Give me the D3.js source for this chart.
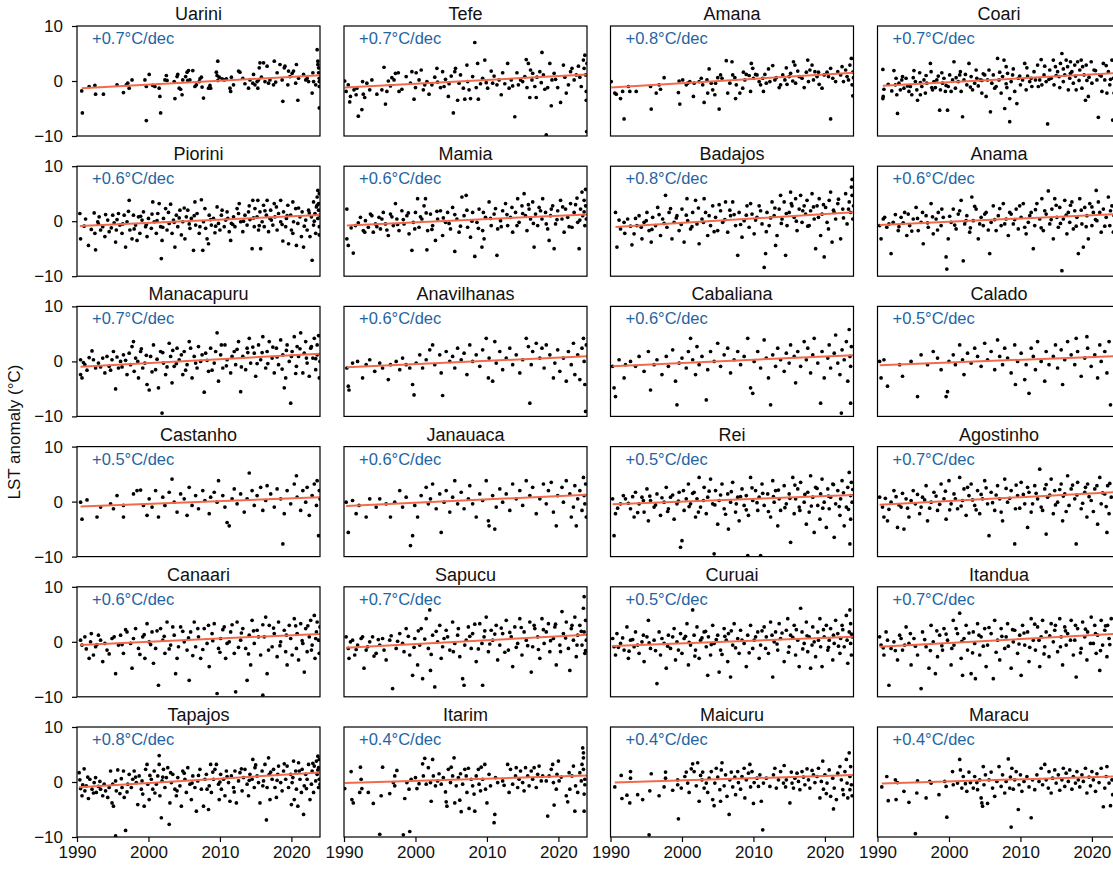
<!DOCTYPE html>
<html lang="en">
<head>
<meta charset="utf-8">
<title>LST anomaly trends</title>
<script src="https://cdn.jsdelivr.net/npm/d3@7"></script>
<style>
    body { margin: 0; background: #fff; }
    svg { display: block; font-family: "Liberation Sans", Arial, sans-serif; }
    .title { font-size: 18px; fill: #111; }
    .tick text { font-size: 17px; fill: #111; }
    .rate { font-size: 16.5px; fill: #1f65a3; }
    .ylab { font-size: 17px; fill: #111; }
</style>
</head>
<body>
<script>
// each point: [years since 1990, LST anomaly in °C]
var uarini = [[0.66,-1.8],[0.75,-5.8],[1.7,-1.0],[2.5,-0.8],[2.6,-2.4],[3.7,-2.4],[5.6,-0.7],[6.5,-2.1],[6.9,-0.7],[7.1,-0.4],[7.3,-1.3],[7.7,0.2],[9.5,0.2],[9.7,-7.2],[9.7,-1.0],[10.1,1.2],[10.6,-0.8],[10.9,-1.0],[11.5,-1.3],[11.6,-2.8],[11.7,-5.8],[12.3,0.2],[12.5,1.0],[12.6,0.1],[13.6,-0.1],[13.7,-3.2],[14.0,0.8],[14.1,1.2],[14.3,-1.3],[14.5,-1.5],[14.7,-2.5],[14.8,0.2],[15.2,0.8],[15.4,1.6],[15.5,0.1],[15.6,1.9],[15.8,0.2],[16.2,1.9],[16.5,-1.0],[16.7,-0.7],[17.1,-0.1],[17.2,0.4],[17.4,0.7],[17.5,-1.1],[17.7,-3.1],[18.4,-1.3],[18.6,-0.8],[18.7,-1.3],[19.5,1.6],[19.6,1.0],[19.7,3.6],[19.7,0.1],[19.9,0.7],[20.3,0.4],[20.6,0.2],[20.9,0.4],[21.4,-1.3],[21.5,-1.9],[21.6,0.7],[21.9,-0.7],[22.6,1.8],[22.8,1.6],[23.2,0.5],[23.5,-0.5],[24.0,-1.3],[24.2,0.2],[24.6,-0.4],[24.7,1.2],[24.9,-0.7],[25.2,-0.1],[25.3,-1.3],[25.4,0.2],[25.5,2.4],[25.6,3.3],[25.8,0.7],[26.1,3.3],[26.3,-0.1],[26.6,2.7],[26.8,-0.4],[27.0,0.2],[27.5,-0.7],[27.6,3.6],[27.8,-0.2],[28.0,1.5],[28.4,3.0],[28.7,0.2],[28.8,-3.7],[29.0,2.4],[29.1,2.7],[29.5,-0.7],[29.6,1.8],[29.8,0.8],[30.1,1.4],[30.3,1.8],[30.6,-0.4],[30.7,3.0],[30.9,-3.5],[31.0,0.5],[31.7,1.2],[32.0,0.2],[32.2,0.5],[32.4,-0.1],[32.9,-2.2],[33.0,1.5],[33.1,-0.1],[33.4,-0.7],[33.6,5.7],[33.7,3.6],[33.7,3.0],[33.8,2.4],[33.8,1.5],[33.9,-0.1],[33.9,-1.0],[33.9,-4.9],[33.9,0.5]];
var tefe = [[0.1,0],[0.3,-1.9],[0.6,-0.7],[0.8,-3.8],[0.9,-2.8],[1.4,-1.6],[1.7,-2.5],[1.8,-1.3],[2.0,-6.4],[2.5,-5.2],[2.6,-0.1],[2.7,-2.4],[2.9,-3.0],[3.2,-0.4],[3.6,-1.6],[3.9,0.2],[4.6,-2.4],[5.3,-1.6],[5.6,2.5],[5.8,-4.2],[6.0,-1.9],[6.2,0],[6.5,-0.9],[6.7,0.6],[7.0,0.2],[7.2,1.4],[7.6,1.5],[7.7,-1.9],[8.1,-1.5],[8.7,0.8],[9.3,-0.4],[9.5,1.7],[9.8,-3.3],[10.0,-1.2],[10.1,1.5],[10.5,0.2],[10.8,2.0],[11.1,-1.6],[11.3,-0.7],[11.6,-0.1],[11.9,-2.4],[12.3,-0.7],[12.7,0.7],[13.0,2.3],[13.1,-0.2],[13.5,-1.2],[13.8,1.7],[14.0,-1.0],[14.2,0.3],[14.6,-2.8],[14.7,-0.5],[15.0,0.9],[15.3,-5.8],[15.5,1.7],[15.6,2.3],[15.9,-3.5],[16.1,-0.4],[16.3,1.1],[16.7,-1.3],[16.9,-3.3],[17.2,2.9],[17.3,-0.1],[17.5,-1.6],[17.7,-3.2],[18.0,0.8],[18.3,7.0],[18.5,-1.2],[18.7,3.2],[18.8,-3.3],[19.1,-0.5],[19.4,0.5],[19.7,3.8],[19.9,-0.3],[20.1,-1.3],[20.6,1.8],[20.8,-0.4],[21.0,0.9],[21.4,-0.7],[21.7,0.2],[22.0,-2.5],[22.2,1.5],[22.5,-0.5],[22.9,3.2],[23.1,-1.3],[23.4,0.2],[23.6,-0.9],[23.9,-6.5],[24.2,1.5],[24.4,-0.7],[24.7,0.2],[25.0,-0.1],[25.3,0.8],[25.5,3.9],[25.6,-1.2],[25.8,3.2],[26.0,-3.0],[26.1,2.0],[26.3,0.2],[26.4,1.4],[26.7,-1.0],[26.9,-3.0],[27.0,0.7],[27.4,1.7],[27.6,-0.3],[27.7,5.2],[27.9,1.1],[28.1,-1.5],[28.3,-9.8],[28.5,-1.2],[28.8,3.2],[29.0,-4.5],[29.1,0.2],[29.4,1.4],[29.6,0.3],[29.9,-1.2],[30.3,-3.9],[30.7,2.9],[30.9,0.7],[31.1,-2.2],[31.4,-0.7],[31.7,1.7],[31.9,2.3],[32.2,0.2],[32.5,1.1],[32.8,2.7],[33.0,0.7],[33.2,-1.0],[33.5,3.8],[33.6,2.3],[33.7,4.7],[33.8,1.1],[33.9,-1.9],[33.9,-3.5],[33.95,-9.2],[34.0,3.2]];
var amana = [[0.1,-0.1],[0.6,-2.2],[0.8,-2.4],[1.4,-3.2],[1.7,-1.9],[1.9,-6.9],[2.5,-1.0],[2.7,-1.9],[3.6,-1.9],[5.6,-1.0],[5.7,-5.1],[6.4,-2.2],[6.8,-0.7],[7.0,-1.5],[7.5,0.6],[9.5,-2.1],[9.6,0],[9.7,-4.2],[10.1,0.2],[10.6,-0.7],[10.8,-0.4],[11.1,-0.1],[11.6,-2.8],[11.7,-0.4],[12.4,-0.1],[12.7,0.5],[12.9,-0.7],[13.1,-3.9],[13.5,0.2],[13.6,-2.2],[13.8,2.2],[14.1,-0.4],[14.3,-1.6],[14.6,-2.5],[14.7,-0.4],[15.0,0.6],[15.2,-5.1],[15.4,1.1],[15.6,0.5],[16.2,3.7],[16.4,-2.2],[16.7,-0.4],[17.0,3.5],[17.1,1.1],[17.4,0.6],[17.5,-3.2],[17.6,-0.7],[18.1,-2.2],[18.5,-1.3],[18.6,1.6],[18.8,0.2],[19.0,1.2],[19.4,1.0],[19.6,-1.9],[19.7,3.2],[19.9,2.3],[20.0,0.5],[20.3,1.2],[20.5,1.1],[20.8,-0.1],[21.0,-0.7],[21.3,0.5],[21.4,-1.9],[21.6,1.2],[21.8,-0.4],[22.1,2.2],[22.3,-0.1],[22.7,2.8],[23.0,0.2],[23.2,0.6],[23.6,-1.2],[23.8,-0.7],[24.1,1.1],[24.4,0.2],[24.6,2.4],[24.7,-0.6],[25.0,0.8],[25.2,1.4],[25.5,0],[25.6,3.5],[25.8,2.9],[25.9,-0.4],[26.2,1.8],[26.4,0.8],[26.8,0.5],[27.1,-1.2],[27.4,1.6],[27.6,3.8],[27.7,-0.1],[27.9,2.0],[28.2,2.9],[28.4,0.2],[28.6,1.7],[28.9,0.8],[29.1,1.6],[29.2,-0.6],[29.6,-1.3],[29.9,1.1],[30.3,1.6],[30.5,0.8],[30.8,2.3],[30.8,-6.9],[31.1,0.5],[31.5,-0.1],[31.8,1.7],[32.2,1.1],[32.4,2.6],[32.6,-0.1],[32.9,2.0],[33.1,0.8],[33.3,0.2],[33.5,2.9],[33.7,4.1],[33.8,-0.7],[33.9,1.6],[33.9,-2.7],[34.0,0.6]];
var coari = [[0.75,2.1],[0.8,-2.8],[0.9,-1.5],[0.75,-3.2],[2.3,1.9],[2.5,-0.7],[2.6,0.5],[2.7,-2.5],[2.8,-5.9],[3.0,-0.4],[3.2,-1.6],[3.4,0.2],[3.7,-1.3],[4.0,0.5],[4.4,-1.9],[4.6,-1.0],[4.8,-2.5],[5.1,1.9],[5.3,-0.1],[5.5,-1.6],[5.6,-3.5],[5.9,1.5],[6.0,-2.5],[6.2,-1.0],[6.5,0.2],[6.7,-2.2],[6.9,-0.4],[7.4,3.2],[7.5,1.7],[7.7,-1.6],[7.9,-0.1],[8.1,-1.2],[8.5,0.9],[8.7,-5.3],[8.8,-1.6],[9.1,-0.4],[9.3,0.5],[9.5,-1.9],[9.8,-5.3],[9.9,-1.0],[10.1,1.1],[10.5,0.2],[10.7,3.5],[10.9,-1.3],[11.3,-0.1],[11.5,1.1],[11.6,1.7],[11.7,-1.9],[11.9,-6.5],[12.1,0.2],[12.5,-0.7],[12.8,3.2],[13.1,0.8],[13.3,-1.6],[13.6,-0.4],[13.9,0.5],[14.1,-0.9],[14.4,0.2],[14.6,-2.2],[14.8,1.3],[15.2,-2.8],[15.4,0.2],[15.6,2.0],[15.8,-5.6],[16.0,-0.4],[16.2,1.1],[16.6,-1.0],[16.8,4.1],[17.0,0.2],[17.3,-2.2],[17.5,0.8],[17.7,3.8],[17.8,-5.0],[18.0,2.6],[18.1,-1.2],[18.2,1.4],[18.5,-3.2],[18.5,-7.4],[18.7,-0.1],[18.9,1.1],[19.2,-1.9],[19.5,-4.1],[19.7,0.5],[20.0,-0.7],[20.3,0.2],[20.6,3.2],[20.8,-1.6],[21.0,0.9],[21.3,-0.1],[21.6,-1.0],[21.9,1.7],[22.1,0.2],[22.4,2.9],[22.7,0.2],[22.9,3.9],[23.0,-0.7],[23.3,1.1],[23.6,-0.1],[23.8,-7.8],[24.1,2.0],[24.3,0.5],[24.6,3.8],[24.7,-0.7],[24.9,2.6],[25.2,1.7],[25.4,0.8],[25.6,3.2],[25.8,5.0],[26.0,-0.1],[26.2,1.1],[26.4,3.8],[26.6,2.6],[26.7,-1.6],[26.9,0.5],[27.0,3.5],[27.2,1.7],[27.4,-0.4],[27.6,2.9],[27.7,0.9],[28.0,3.5],[28.2,0.1],[28.3,2.0],[28.5,3.8],[28.6,-1.3],[28.9,1.1],[29.1,-3.5],[29.2,2.9],[29.5,-2.8],[29.6,0.7],[29.9,3.5],[30.0,-0.4],[30.3,2.0],[30.7,0.2],[30.9,-6.6],[31.1,1.1],[31.4,-1.9],[31.6,3.2],[31.8,0.2],[32.1,-2.2],[32.3,1.7],[32.5,-0.7],[32.8,3.8],[32.9,-7.1],[33.0,0.5],[33.1,-2.2],[33.6,1.2],[33.8,-0.6],[33.9,2.4],
    [1.5,-0.6],[2.0,-1.8],[3.5,0.8],[4.2,-0.9],[5.0,0.6],[6.0,-0.3],[6.8,1.0],[7.6,-1.2],[8.3,0.2],[9.0,1.5],[9.6,-0.8],[10.3,-1.9],[11.0,0.6],[12.3,1.2],[13.0,-1.1],[13.8,2.0],[14.6,0.1],[15.0,1.1],[16.4,-1.3],[17.1,1.6],[18.0,-0.5],[19.0,2.2],[19.9,0.9],[20.9,2.4],[21.5,0.5],[22.5,-1.0],[23.4,2.7],[24.0,0.3],[25.0,1.0],[25.5,-1.2],[26.0,2.2],[27.0,1.4],[27.8,-1.6],[28.7,2.6],[29.3,0.1],[30.5,1.9],[31.3,0.9],[32.0,2.8],[32.6,0.3]];
var piorini = [[0.4,1.4],[0.5,-3.2],[1.0,-0.9],[1.6,-4.4],[2.4,1.5],[2.5,-2.2],[2.6,-5.2],[2.9,-0.1],[3.1,0.8],[3.3,-1.6],[3.6,-1.0],[3.9,-2.8],[4.3,0.2],[4.5,-1.9],[5.0,1.1],[5.2,-0.3],[5.4,-3.8],[5.5,-1.6],[5.8,1.4],[6.0,-0.7],[6.3,-2.2],[6.6,1.1],[6.8,-4.7],[7.0,-0.1],[7.3,3.8],[7.4,-1.6],[7.7,-3.2],[7.9,1.1],[8.2,-0.7],[8.4,-3.5],[8.6,0.8],[8.8,-2.2],[9.1,0.2],[9.3,1.7],[9.6,-1.0],[9.8,-2.8],[10.0,0.5],[10.4,-1.3],[10.6,3.5],[10.8,-0.1],[11.1,-2.2],[11.3,1.4],[11.5,3.2],[11.7,-1.0],[11.8,-6.8],[11.9,-3.5],[12.1,0.5],[12.4,2.3],[12.6,-1.6],[12.9,-0.4],[13.1,3.1],[13.3,-2.2],[13.5,0.2],[13.7,-4.7],[13.9,1.1],[14.1,-1.0],[14.4,2.0],[14.6,-2.5],[14.8,-0.1],[15.1,-3.2],[15.3,0.8],[15.5,2.0],[15.8,-1.3],[16.0,0.5],[16.3,-5.3],[16.5,3.5],[16.6,-0.7],[16.8,1.4],[17.1,-2.2],[17.4,3.9],[17.6,-5.3],[17.7,-0.1],[18.0,-1.3],[18.2,-3.2],[18.4,-4.1],[18.5,1.1],[18.8,-0.7],[19.1,0.5],[19.3,-2.1],[19.6,2.6],[19.8,-0.4],[20.0,-1.6],[20.2,1.1],[20.6,-1.0],[20.8,0.2],[21.0,1.7],[21.3,-1.9],[21.5,-3.5],[21.6,-0.4],[21.9,0.8],[22.1,-1.0],[22.4,2.3],[22.7,3.2],[22.9,-0.1],[23.2,-1.9],[23.5,1.1],[23.8,-0.7],[24.0,1.7],[24.2,0.3],[24.5,-5.0],[24.6,3.8],[24.8,-1.0],[24.9,2.3],[25.2,0.8],[25.3,3.8],[25.4,-1.6],[25.6,1.7],[25.7,-5.0],[25.9,-0.1],[26.1,2.9],[26.2,-1.0],[26.5,1.1],[26.6,3.8],[26.8,-1.9],[27.0,0.5],[27.1,2.0],[27.4,-0.7],[27.6,3.2],[27.7,0.8],[28.0,-1.6],[28.2,1.4],[28.5,3.8],[28.5,-0.1],[28.8,-3.6],[28.9,1.7],[29.2,-1.0],[29.3,0.5],[29.5,2.9],[29.6,-4.1],[29.9,1.1],[30.0,-1.6],[30.2,3.5],[30.3,-0.1],[30.6,2.3],[30.7,-4.4],[30.9,-0.4],[31.2,0.8],[31.4,-2.8],[31.5,1.7],[31.7,-4.7],[32.0,0.2],[32.2,-1.6],[32.4,2.0],[32.6,-2.8],[32.8,0.8],[32.9,-7.1],[33.1,3.5],[33.1,-0.7],[33.3,1.4],[33.4,-2.2],[33.5,2.6],[33.6,4.4],[33.7,5.6],[33.7,0.5],[33.8,2.0],[33.8,3.2],[33.9,-1.0],[33.9,5.0],[34.0,1.1],
    [1.2,0.4],[2.0,-1.5],[3.0,-0.5],[4.0,1.2],[4.8,-1.2],[5.6,0.3],[6.4,-0.5],[7.2,1.8],[8.0,-1.4],[8.9,0.9],[9.7,-0.6],[10.5,1.3],[11.2,0.1],[12.0,-1.1],[12.8,1.6],[13.6,-0.2],[14.3,0.6],[15.0,2.4],[15.7,-0.5],[16.4,1.0],[17.2,-1.0],[17.9,2.3],[18.7,0.3],[19.4,-0.9],[20.3,2.0],[21.1,0.5],[21.8,-0.6],[22.6,1.4],[23.3,0.0],[24.1,2.8],[24.7,0.6],[25.5,-0.8],[26.3,1.9],[27.2,0.2],[27.9,2.6],[28.7,-0.6],[29.4,1.0],[30.2,-2.2],[31.0,2.4],[31.8,-0.9],[32.5,1.5],[33.2,0.0],[33.6,2.9],[33.9,-2.5]];
var mamia = [[0.4,2.2],[0.4,-3.2],[0.6,-4.4],[1.3,-5.8],[1.6,-0.8],[2.3,0.7],[2.7,-1.7],[3.0,0.1],[3.4,-1.1],[3.7,1.3],[4.1,-2.0],[4.4,-0.5],[4.9,0.7],[5.1,-1.4],[5.5,1.6],[5.8,-0.5],[6.2,-2.6],[6.5,1.3],[6.9,-0.8],[7.2,3.2],[7.4,0.4],[7.7,-1.7],[8.1,1.9],[8.4,-0.5],[8.8,1.0],[9.1,-2.3],[9.5,-5.3],[9.7,-0.2],[10.0,1.6],[10.3,4.1],[10.5,-1.1],[10.9,0.4],[11.2,2.8],[11.4,4.1],[11.6,-5.2],[11.7,-1.7],[12.1,1.3],[12.4,-0.8],[12.8,-3.5],[13.1,0.4],[13.5,1.9],[13.8,-2.6],[14.2,-0.2],[14.5,1.6],[14.9,-1.4],[15.2,2.5],[15.5,-5.5],[15.8,0.4],[16.1,-2.0],[16.5,4.4],[16.8,1.0],[17.1,4.7],[17.3,-1.1],[17.7,-2.9],[18.0,1.6],[18.3,-6.4],[18.6,-0.2],[18.9,2.2],[19.3,-4.7],[19.4,-1.7],[19.6,-3.2],[19.8,0.7],[20.3,3.5],[20.6,-0.8],[21.0,1.3],[21.4,-6.2],[21.5,-1.4],[21.9,0.1],[22.2,1.9],[22.6,3.2],[22.9,-0.8],[23.3,0.7],[23.6,-2.0],[24.0,1.6],[24.3,4.1],[24.5,-0.2],[24.9,2.8],[25.2,5.0],[25.4,1.0],[25.6,-1.7],[25.9,2.2],[26.1,0.4],[26.4,3.5],[26.6,-4.7],[26.8,1.3],[27.1,-0.8],[27.3,2.5],[27.7,0.4],[27.8,4.1],[28.2,1.6],[28.5,-1.4],[28.7,-3.5],[28.9,1.0],[29.2,2.8],[29.4,-5.0],[29.6,-0.5],[29.9,1.9],[30.3,3.8],[30.5,0.4],[30.8,-2.0],[31.0,2.2],[31.3,0.7],[31.7,3.2],[31.9,-1.1],[32.2,1.6],[32.6,4.2],[32.7,-0.2],[32.9,-5.0],[33.1,2.2],[33.3,5.3],[33.4,1.0],[33.6,3.8],[33.7,-0.8],[33.8,2.8],[33.8,5.8],[33.9,0.4],
    [1.0,-1.2],[2.0,-0.3],[2.9,-2.0],[3.9,1.0],[4.6,-1.0],[5.3,0.4],[6.0,-1.6],[6.7,0.8],[7.5,-0.6],[8.3,0.3],[9.0,1.5],[9.9,-1.4],[10.7,0.8],[11.5,1.5],[12.3,-1.5],[13.0,1.8],[13.9,0.6],[14.7,-0.4],[15.5,1.2],[16.3,-0.9],[17.2,2.0],[17.9,0.0],[18.8,-1.3],[19.5,1.6],[20.5,0.5],[21.2,2.3],[22.0,-1.0],[22.8,1.2],[23.5,2.5],[24.2,-0.8],[25.0,1.4],[25.8,3.0],[26.5,-0.4],[27.5,1.9],[28.3,-0.5],[29.0,2.2],[29.8,0.3],[30.6,2.6],[31.5,-1.0],[32.4,3.0],[33.0,0.2],[33.6,1.7]];
var badajos = [[0.7,1.6],[0.9,-4.7],[1.4,-1.4],[1.9,-0.2],[2.4,0.4],[3.0,-4.3],[3.3,-2.3],[3.7,-0.8],[4.0,1.0],[4.4,-3.2],[4.7,-0.2],[5.1,1.6],[5.4,-1.7],[5.7,-3.8],[5.9,0.7],[6.3,-0.8],[6.6,2.5],[7.0,-2.6],[7.3,0.4],[7.7,4.7],[7.9,-1.1],[8.2,1.6],[8.6,-3.2],[8.9,-0.2],[9.3,1.0],[9.6,-1.7],[10.0,2.2],[10.3,-3.8],[10.7,4.1],[10.8,0.1],[11.2,-1.4],[11.5,1.6],[11.9,3.8],[12.1,-0.5],[12.4,-4.1],[12.8,0.4],[13.1,4.1],[13.3,1.6],[13.6,-2.6],[14.0,-0.8],[14.3,2.8],[14.7,0.7],[15.0,-1.7],[15.4,1.9],[15.7,-0.2],[16.1,3.5],[16.4,-2.0],[16.8,1.0],[17.1,3.5],[17.5,-0.8],[17.8,-6.2],[18.0,1.6],[18.4,-2.9],[18.7,0.1],[19.1,2.8],[19.4,-1.1],[19.8,1.3],[20.1,-2.3],[20.5,0.7],[20.8,2.8],[21.2,-0.5],[21.5,-8.4],[21.7,-5.9],[21.9,1.6],[22.2,-0.8],[22.6,3.5],[22.9,1.0],[23.1,-4.4],[23.3,-2.6],[23.6,2.2],[23.8,4.7],[24.0,0.4],[24.3,3.5],[24.5,-6.2],[24.7,-0.8],[25.0,1.6],[25.2,5.3],[25.4,2.8],[25.7,0.7],[25.9,4.1],[26.1,-1.7],[26.4,2.2],[26.6,4.7],[26.8,-0.2],[27.1,2.8],[27.3,1.3],[27.5,3.8],[27.8,-0.8],[28.0,1.9],[28.2,5.0],[28.5,0.4],[28.7,-5.0],[28.9,2.8],[29.2,4.1],[29.4,-2.6],[29.6,1.3],[29.9,-6.5],[30.1,2.5],[30.3,-0.2],[30.6,3.8],[30.8,5.3],[31.0,-3.8],[31.3,1.6],[31.5,0.4],[31.8,3.2],[32.2,-3.2],[32.5,2.2],[32.9,5.0],[33.1,-0.5],[33.4,3.5],[33.6,1.6],[33.7,6.2],[33.8,7.6],[33.8,4.7],[33.9,0.4],[34.0,2.8],
    [1.2,0.2],[2.0,-2.2],[2.8,-0.9],[3.5,0.5],[4.3,-1.1],[5.0,0.1],[5.8,-1.5],[6.8,1.2],[7.5,-0.4],[8.4,2.3],[9.2,0.6],[9.9,-0.6],[10.6,1.1],[11.4,-1.0],[12.3,2.4],[13.0,-0.2],[13.8,1.0],[14.5,-1.9],[15.2,3.0],[16.0,0.3],[16.7,2.0],[17.3,1.2],[18.2,-0.6],[19.0,1.1],[19.6,3.2],[20.3,0.2],[21.0,1.9],[21.8,-1.9],[22.4,0.6],[23.0,2.4],[23.9,-0.4],[24.6,1.4],[25.3,3.2],[26.0,0.0],[26.9,1.9],[27.6,-0.9],[28.4,2.6],[29.1,0.7],[29.8,3.0],[30.5,-1.4],[31.2,2.0],[31.9,4.0],[32.6,0.6],[33.3,2.2]];
var anama = [[0.3,-0.8],[0.5,-3.2],[1.0,0.7],[1.3,-1.1],[1.9,-5.9],[2.2,-0.2],[2.9,-1.7],[3.3,0.7],[3.8,1.6],[4.1,-2.6],[4.5,-0.8],[5.0,0.4],[5.4,2.5],[5.7,-1.7],[6.1,-0.2],[6.4,-4.1],[6.8,1.0],[7.1,-1.1],[7.5,3.2],[7.8,-2.3],[8.2,0.4],[8.5,1.6],[8.9,-0.8],[9.2,0.7],[9.6,-6.5],[9.7,-8.7],[9.9,-3.2],[10.3,-0.2],[10.6,2.2],[11.0,-1.4],[11.3,1.3],[11.7,3.8],[12.0,-7.2],[12.2,-0.5],[12.5,1.0],[12.9,-2.0],[13.2,4.4],[13.4,0.1],[13.8,2.2],[14.1,-3.2],[14.5,0.7],[14.8,-0.8],[15.2,1.6],[15.7,-5.9],[15.9,-0.2],[16.2,2.8],[16.6,-1.7],[16.9,1.0],[17.3,-0.8],[17.6,3.2],[18.0,0.4],[18.3,-2.6],[18.7,1.3],[19.0,-0.5],[19.4,2.2],[19.7,-1.4],[20.1,0.7],[20.4,3.2],[20.8,-2.3],[21.1,-0.2],[21.5,1.6],[21.8,-5.0],[22.0,-0.8],[22.3,3.2],[22.7,0.4],[23.0,4.1],[23.2,-1.7],[23.6,1.3],[23.9,5.5],[24.1,-0.5],[24.4,2.2],[24.6,-3.2],[24.8,4.1],[25.1,0.7],[25.3,-1.1],[25.5,2.5],[25.8,-9.0],[26.0,0.4],[26.2,3.8],[26.5,-2.3],[26.7,1.6],[26.9,-0.2],[27.2,3.5],[27.4,-1.4],[27.6,1.9],[27.9,0.7],[28.1,-5.9],[28.3,4.1],[28.6,-0.5],[28.8,-4.7],[29.0,2.5],[29.3,1.0],[29.5,-3.2],[29.7,3.2],[30.0,-0.8],[30.2,1.6],[30.6,5.6],[30.7,0.1],[30.9,3.5],[31.3,-2.0],[31.6,2.2],[32.0,0.7],[32.3,4.4],[32.5,-0.8],[32.8,2.8],[33.1,1.0],[33.5,2.0],[33.8,-1.0],
    [0.8,0.4],[1.6,-0.5],[2.5,1.2],[3.0,-1.0],[3.6,-0.3],[4.3,1.3],[4.8,-1.8],[5.6,0.5],[6.3,1.6],[7.0,-0.3],[7.7,0.8],[8.4,-1.6],[9.0,2.2],[10.1,0.9],[10.8,-0.7],[11.5,1.9],[12.4,0.1],[13.0,-1.2],[13.6,2.7],[14.3,-0.5],[15.0,1.3],[15.5,-1.6],[16.4,0.3],[17.1,2.3],[17.8,-0.5],[18.5,1.6],[19.2,0.3],[19.9,2.8],[20.6,-1.1],[21.3,1.0],[22.1,2.1],[22.9,-1.2],[23.4,1.9],[24.3,0.3],[25.0,2.9],[25.6,-0.4],[26.4,1.1],[27.0,2.9],[27.8,-0.9],[28.5,2.0],[29.2,-1.0],[30.0,2.6],[30.5,0.3],[31.1,1.6],[31.8,-0.9],[32.6,1.9],[33.0,-2.0]];
var manacapuru = [[0.5,0.3],[0.5,-2.4],[0.7,-3.0],[1.1,-0.6],[1.7,0.7],[2.1,1.9],[2.6,-1.2],[3.0,-0.3],[3.6,0.6],[3.9,-2.1],[4.5,-0.9],[4.9,0.3],[5.1,1.8],[5.4,-5.0],[5.8,-1.2],[6.1,0],[6.5,1.2],[7.0,-2.4],[7.5,-0.6],[7.7,2.7],[7.9,3.6],[8.2,0.6],[8.6,-3.0],[8.9,1.8],[9.2,-1.2],[9.5,-0.3],[9.8,-4.2],[10.1,-5.2],[10.3,0.9],[10.7,3.0],[11.0,-1.5],[11.4,-4.8],[11.7,1.8],[11.9,-9.4],[12.1,-0.3],[12.4,-2.4],[12.9,3.3],[13.1,0.9],[13.3,-3.9],[13.6,-0.9],[14.0,2.4],[14.3,0.3],[14.8,-2.4],[15.0,1.8],[15.4,-0.6],[15.7,3.6],[16.1,-3.0],[16.4,0.9],[16.8,-1.2],[17.0,2.7],[17.3,0],[17.8,-5.6],[18.0,1.5],[18.4,-1.8],[18.7,2.4],[19.2,-0.3],[19.6,5.2],[19.8,-3.6],[20.1,1.2],[20.4,-1.2],[20.7,3.0],[21.0,0.3],[21.5,-2.1],[22.0,1.8],[22.2,-0.6],[22.6,3.6],[22.9,-5.5],[23.2,0.9],[23.6,-1.5],[23.8,2.4],[24.1,4.2],[24.3,-0.3],[24.8,1.5],[25.0,-2.7],[25.4,3.0],[25.7,0.3],[26.0,4.5],[26.4,-1.2],[26.6,1.8],[26.9,3.6],[27.3,0.6],[27.6,-2.1],[27.9,2.4],[28.2,-0.6],[28.5,3.9],[28.8,1.2],[29.0,-4.8],[29.2,-3.0],[29.4,3.0],[29.7,0],[29.9,-7.6],[30.1,1.8],[30.4,4.5],[30.7,-0.9],[30.8,2.7],[31.0,0.9],[31.3,5.2],[31.6,-2.1],[31.8,1.5],[32.0,3.6],[32.2,-0.3],[32.5,-2.7],[32.7,2.4],[33.0,0.6],[33.2,4.2],[33.4,-1.5],[33.6,3.0],[33.6,1.2],[33.8,4.7],[33.9,-3.0],[34.0,0],
    [0.9,-0.2],[1.4,-1.6],[2.3,0.3],[3.3,-1.0],[4.2,0.9],[4.7,-1.6],[5.6,0.8],[6.3,-1.0],[6.8,0.2],[7.3,1.5],[8.0,-1.8],[8.5,0.0],[9.0,2.3],[9.7,1.1],[10.5,-1.9],[11.2,0.4],[12.0,1.6],[12.6,-1.0],[13.4,2.0],[13.9,-0.4],[14.6,1.2],[15.2,-1.6],[15.9,2.4],[16.6,-0.3],[17.5,1.2],[18.2,0.2],[18.9,-1.6],[19.4,1.8],[20.2,3.0],[20.9,-0.8],[21.7,0.9],[22.4,2.2],[23.0,-1.0],[23.9,1.6],[24.6,2.6],[25.2,-0.4],[25.9,1.6],[26.7,-0.4],[27.4,2.6],[28.0,0.8],[28.7,-1.4],[29.3,2.0],[30.0,0.9],[30.6,-2.2],[31.2,2.3],[32.1,0.6],[32.8,2.7],[33.4,0.5]];
var anavilhanas = [[0.4,-1.2],[0.6,-4.5],[0.7,-5.2],[1.2,-0.3],[1.9,0],[2.6,-3.0],[3.1,-0.6],[3.6,0.3],[4.3,-1.8],[5.0,-0.3],[5.4,-1.2],[6.2,-3.3],[6.5,-0.6],[7.3,0],[7.8,-1.5],[8.2,0.6],[8.7,-0.6],[9.2,-1.2],[9.6,-4.2],[9.8,-6.1],[10.1,-0.3],[10.6,1.2],[11.0,-1.2],[11.5,0.3],[12.0,2.1],[12.4,3.0],[12.7,-0.6],[13.4,1.2],[13.6,-2.1],[13.8,-6.2],[14.3,1.8],[14.8,0],[15.2,0.9],[15.5,-1.2],[15.9,2.4],[16.4,0.3],[16.8,1.5],[17.2,-2.4],[17.6,3.0],[18.0,0],[18.5,1.2],[19.0,-0.9],[19.4,2.1],[19.9,4.2],[20.2,-3.0],[20.3,0.6],[20.8,-3.6],[21.1,3.6],[21.3,-0.3],[21.8,1.8],[22.2,-1.5],[22.7,0.6],[23.2,2.4],[23.6,-0.6],[24.1,1.2],[24.6,-2.1],[25.0,0.3],[25.5,4.2],[25.8,2.7],[26.0,-7.6],[26.2,-0.6],[26.4,1.8],[26.9,3.3],[27.4,0.6],[27.7,2.4],[28.0,-1.2],[28.3,3.0],[28.8,1.2],[29.3,-3.0],[29.5,-0.3],[29.9,2.1],[30.2,-1.8],[30.7,0.6],[31.1,-3.6],[31.4,1.8],[31.8,-0.6],[32.1,3.3],[32.3,-2.4],[32.7,1.2],[33.0,-3.3],[33.3,2.4],[33.5,4.2],[33.6,0],[33.7,-4.2],[33.8,-9.1],[33.9,3.0]];
var cabaliana = [[0.3,-0.9],[0.5,-4.8],[0.7,-6.4],[1.2,0.3],[1.9,-3.0],[2.1,-0.6],[2.8,0],[3.5,-0.9],[4.0,0.9],[4.7,-1.8],[5.3,1.8],[5.6,-5.2],[6.1,-0.6],[6.5,0.3],[7.2,-2.4],[7.8,0.9],[8.1,-0.9],[8.7,2.1],[9.1,-3.6],[9.3,-7.9],[9.6,-0.3],[10.0,0.6],[10.6,-1.2],[10.9,1.8],[11.2,4.2],[11.5,0.3],[11.9,-2.4],[12.1,2.7],[12.4,-0.6],[12.8,0.9],[13.4,-7.0],[13.6,-1.5],[14.0,1.8],[14.5,0],[15.0,3.3],[15.4,-0.9],[15.9,1.2],[16.4,2.4],[16.8,-2.1],[17.3,0.3],[17.8,1.8],[18.2,-0.6],[18.7,0.9],[19.2,4.2],[19.6,-4.8],[19.9,-5.8],[20.1,0],[20.6,1.8],[21.0,-1.2],[21.5,3.9],[21.8,0.6],[22.1,-3.0],[22.4,-7.9],[22.7,1.2],[23.1,-0.9],[23.4,2.4],[23.8,0.3],[24.3,-1.8],[24.6,1.5],[25.0,-0.3],[25.2,3.0],[25.7,0.9],[25.9,-3.9],[26.2,1.8],[26.6,-0.9],[27.1,3.6],[27.4,0.3],[27.6,2.4],[28.0,-2.1],[28.3,1.2],[28.5,4.2],[29.0,-0.3],[29.4,-7.6],[29.6,1.8],[29.9,-3.0],[30.4,0.6],[30.6,3.0],[30.8,-1.2],[31.3,1.5],[31.5,4.8],[31.8,-0.3],[32.1,-2.4],[32.3,-9.4],[32.4,2.1],[32.7,0.3],[33.0,3.6],[33.2,-3.6],[33.4,5.8],[33.5,0.9],[33.6,-7.6],[33.6,-0.9],[33.7,2.7]];
var calado = [[0.3,0],[0.5,-3.0],[0.9,0.3],[1.4,-4.5],[3.1,-0.6],[3.5,-2.7],[4.7,0],[5.6,-6.4],[6.1,1.2],[7.0,-0.6],[7.8,1.8],[8.4,0.6],[8.9,-1.5],[9.6,-6.4],[9.8,-5.5],[10.0,0],[10.6,1.2],[10.9,-0.6],[11.5,3.0],[11.9,0.3],[12.1,-2.4],[12.6,1.5],[13.1,-0.3],[13.6,2.4],[14.0,0.9],[14.5,-0.9],[15.0,3.3],[15.4,0.3],[15.9,1.8],[16.4,-1.5],[16.8,3.9],[17.1,0.9],[17.5,-0.6],[17.8,2.4],[18.2,0.6],[18.7,-2.1],[19.2,3.0],[19.3,-4.2],[19.6,0],[20.1,1.5],[20.6,-3.3],[20.8,-0.6],[21.2,-5.8],[21.5,2.4],[21.8,0.9],[22.1,-1.5],[22.4,3.6],[22.9,0],[23.4,-3.6],[23.6,1.8],[24.0,-0.6],[24.6,0.9],[24.9,3.0],[25.2,-1.2],[25.7,2.1],[25.9,-4.2],[26.2,0.3],[26.6,3.6],[27.1,1.2],[27.6,-0.6],[27.8,4.2],[28.0,1.8],[28.5,-2.7],[29.0,0.6],[29.3,4.5],[29.4,2.4],[29.9,-0.9],[30.4,1.2],[30.8,-3.0],[31.1,3.0],[31.3,0],[31.8,1.8],[32.1,-2.1],[32.4,3.6],[32.6,-7.9],[33.2,1.0],[33.6,-1.5],[33.9,2.0]];
var castanho = [[0.5,-0.1],[0.7,-3.2],[1.4,0.3],[2.8,-2.8],[3.3,-1.0],[4.7,-0.4],[5.1,-1.3],[5.6,1.1],[6.5,-0.7],[6.5,-2.8],[7.9,1.4],[8.4,2.0],[8.9,2.1],[9.3,-0.7],[9.8,-2.5],[10.1,0.5],[10.5,-1.0],[11.0,2.0],[11.4,-2.8],[12.0,0.8],[12.3,-0.7],[12.9,1.7],[13.3,4.1],[13.6,-0.1],[14.0,-1.9],[14.5,1.4],[15.0,0.5],[15.4,-2.5],[15.7,2.6],[16.1,-0.7],[16.6,1.1],[17.0,-1.3],[17.6,2.0],[17.9,0.2],[18.5,-2.2],[18.7,0.8],[19.2,1.7],[19.6,-0.1],[19.8,3.8],[20.4,1.1],[20.7,-1.0],[21.0,-3.8],[21.3,-4.4],[21.7,0.5],[22.0,2.3],[22.4,-0.4],[22.9,1.4],[23.4,-1.9],[23.8,0.5],[24.1,5.2],[24.5,2.0],[24.8,-0.7],[25.2,1.1],[25.7,2.6],[26.0,-1.6],[26.4,0.2],[26.6,2.9],[27.1,1.4],[27.6,-1.0],[28.0,2.3],[28.5,0.5],[28.8,-7.7],[29.0,-2.2],[29.4,2.0],[29.9,-0.4],[30.4,3.2],[30.7,4.7],[30.8,0.8],[31.3,-1.6],[31.6,2.0],[32.0,-0.1],[32.2,2.6],[32.5,-2.5],[32.9,1.1],[33.2,3.2],[33.5,-0.7],[33.6,3.8],[33.8,-6.2],[33.9,2.0],[34.0,0.5]];
var janauaca = [[0.3,-0.1],[0.6,-5.6],[1.2,0.2],[1.7,-2.2],[2.1,-0.7],[3.1,-2.8],[3.6,0.5],[4.5,-1.0],[5.0,0.5],[5.9,-0.4],[6.5,-2.8],[7.1,-0.1],[7.8,2.0],[8.2,-1.0],[8.7,0.8],[9.3,-8.0],[9.6,-6.2],[9.9,-0.7],[10.3,-2.8],[10.8,1.1],[11.5,2.6],[11.8,-0.4],[12.1,0.5],[12.4,3.2],[12.9,-1.3],[13.4,1.4],[13.6,-5.6],[14.0,-0.1],[14.3,2.0],[14.8,-1.9],[15.2,0.8],[15.5,3.8],[15.9,-0.4],[16.4,1.7],[16.8,-1.3],[17.4,0.5],[17.6,2.9],[18.0,-0.4],[18.5,-2.8],[19.0,1.4],[19.4,0.2],[19.9,3.8],[20.2,-3.5],[20.3,-4.4],[20.8,1.1],[21.1,-5.0],[21.3,-1.0],[21.8,2.3],[22.2,-0.1],[22.7,1.4],[23.2,-1.6],[23.6,3.2],[24.1,0.5],[24.6,2.0],[25.0,-0.7],[25.5,3.8],[26.0,1.1],[26.4,2.6],[26.9,-2.2],[27.4,0.5],[27.9,3.2],[28.3,-0.4],[28.6,2.0],[29.0,3.5],[29.3,-1.9],[29.7,-4.4],[29.9,1.1],[30.5,2.6],[30.7,-0.1],[31.1,3.8],[31.6,1.4],[31.8,-2.8],[32.1,-1.0],[32.3,2.9],[32.5,-4.4],[32.7,0.5],[33.0,2.0],[33.3,-1.6],[33.5,4.4],[33.6,1.1],[33.7,-0.4],[33.8,3.2],[33.9,-2.8]];
var rei = [[0.3,0.5],[0.5,-6.2],[0.7,-2.2],[1.4,-0.4],[2.1,0.5],[2.8,-1.3],[3.3,-2.8],[3.5,1.7],[4.0,-0.4],[4.4,0.8],[4.7,-1.9],[5.1,2.3],[5.3,-3.5],[5.6,0.2],[6.1,-1.0],[6.5,1.4],[7.0,-2.5],[7.5,-0.1],[7.8,2.6],[8.1,-1.3],[8.4,0.8],[8.9,-3.2],[9.3,-0.4],[9.6,1.7],[9.8,-8.3],[10.0,-7.1],[10.3,-1.6],[10.6,0.5],[10.9,3.2],[11.2,-0.4],[11.7,1.7],[11.9,-2.8],[12.1,0.5],[12.4,4.4],[12.6,-1.0],[13.1,2.6],[13.4,-2.2],[13.6,0.8],[14.0,4.1],[14.3,-0.4],[14.5,-9.5],[14.7,2.0],[15.0,-4.1],[15.2,0.2],[15.6,3.2],[15.9,-1.3],[16.4,1.4],[16.5,-5.0],[16.8,-0.1],[17.1,3.5],[17.5,-1.9],[17.8,0.8],[18.0,-3.5],[18.4,2.3],[18.7,-0.7],[19.0,1.1],[19.2,-9.8],[19.3,-2.5],[19.6,4.4],[19.9,0.2],[20.3,2.0],[20.6,-1.6],[20.8,0.8],[21.0,-9.8],[21.2,3.2],[21.5,-0.7],[22.0,1.4],[22.4,-2.8],[22.7,3.8],[22.9,-0.1],[23.1,2.0],[23.4,-4.4],[23.6,0.5],[23.8,-1.6],[24.3,2.9],[24.6,-0.4],[25.0,1.4],[25.2,-7.4],[25.5,4.4],[25.7,-2.2],[25.9,0.5],[26.2,2.3],[26.4,-1.0],[26.6,3.5],[27.1,-0.1],[27.4,-4.1],[27.6,1.7],[27.8,-1.9],[28.0,4.7],[28.3,0.8],[28.5,-5.6],[28.7,2.6],[29.0,-0.7],[29.3,-3.2],[29.4,1.4],[29.6,4.1],[29.9,-0.1],[30.2,-4.7],[30.4,2.3],[30.6,-1.3],[30.8,0.8],[31.1,3.2],[31.3,-6.5],[31.5,-0.4],[31.8,2.0],[32.1,-2.5],[32.2,0.5],[32.4,3.8],[32.7,-4.4],[33.0,-1.0],[33.2,2.6],[33.4,5.3],[33.5,-7.7],[33.6,1.1],[33.6,-3.2],[33.7,3.5],[33.8,-0.1],
    [1.0,-1.2],[1.8,1.1],[2.5,-0.3],[3.1,0.9],[3.8,-2.0],[4.6,0.2],[5.5,1.0],[6.3,-0.6],[7.2,0.7],[8.0,-1.8],[8.7,1.2],[9.5,0.1],[10.2,2.0],[11.0,-0.9],[11.5,1.5],[12.3,-1.9],[13.0,0.2],[13.8,1.9],[14.6,-0.6],[15.4,1.2],[16.1,-2.3],[16.9,1.8],[17.6,-0.4],[18.2,0.9],[19.0,-1.5],[19.8,2.5],[20.5,-0.2],[21.3,1.5],[22.1,-1.8],[22.8,0.9],[23.5,2.1],[24.4,-1.1],[25.1,0.6],[25.8,3.0],[26.5,-1.6],[27.2,1.3],[28.1,-0.8],[28.9,2.4],[29.7,-1.2],[30.5,1.0],[31.2,3.1],[32.0,-0.9],[32.6,1.6],[33.3,-1.4],[33.9,2.2]];
var agostinho = [[0.3,0.8],[0.7,-1.0],[0.9,-2.8],[1.4,-3.5],[1.9,-0.1],[2.3,2.0],[2.8,-4.7],[3.3,-1.0],[3.7,-5.0],[4.0,0.5],[4.4,-2.8],[5.0,2.0],[5.3,-0.4],[5.9,-2.2],[6.3,0.8],[6.8,2.9],[7.0,-3.5],[7.5,-0.1],[7.9,1.7],[8.4,-1.6],[8.9,3.2],[9.3,0.5],[9.6,-3.2],[10.0,3.8],[10.3,-0.4],[10.7,1.4],[11.2,-1.3],[11.5,4.4],[11.9,0.2],[12.1,2.3],[12.4,-2.5],[12.8,1.1],[13.1,3.2],[13.6,-0.7],[14.0,2.0],[14.3,-2.2],[14.7,0.5],[15.0,3.8],[15.4,-0.4],[15.6,-6.2],[15.9,1.7],[16.4,-1.6],[16.8,2.9],[17.1,0.5],[17.5,-3.5],[17.8,4.1],[18.2,-0.1],[18.7,2.0],[19.2,-7.7],[19.3,-1.3],[19.6,1.1],[20.1,3.5],[20.6,-0.4],[21.0,-4.7],[21.2,1.7],[21.5,-1.9],[22.0,2.9],[22.4,0.5],[22.7,5.9],[22.9,-1.0],[23.4,2.3],[23.6,-5.9],[23.8,0.8],[24.3,4.1],[24.6,-2.2],[24.8,2.0],[25.2,-0.1],[25.7,3.2],[25.9,-3.5],[26.2,1.4],[26.6,4.7],[26.8,-0.7],[27.1,2.3],[27.6,0.5],[27.8,-7.7],[28.0,3.5],[28.5,-1.3],[29.0,1.7],[29.3,-2.8],[29.4,3.2],[29.9,0.2],[30.4,2.3],[30.8,-4.1],[31.1,4.4],[31.3,-0.4],[31.8,1.4],[32.1,-5.6],[32.2,2.9],[32.4,-2.2],[32.7,0.8],[33.2,2.0],[33.6,-1.0],
    [1.1,0.6],[1.6,-1.4],[2.6,0.9],[3.0,-0.6],[3.5,1.5],[4.2,-1.2],[4.7,0.2],[5.6,1.3],[6.1,-1.0],[6.6,0.3],[7.3,-1.2],[8.2,1.0],[8.7,-0.5],[9.5,1.9],[10.1,-1.5],[10.9,0.5],[11.7,-0.8],[12.6,2.6],[13.3,0.3],[13.8,-1.5],[14.5,1.3],[15.2,2.5],[16.1,-0.2],[16.6,1.2],[17.3,-1.9],[18.0,2.4],[18.5,0.6],[19.4,3.0],[19.9,-1.2],[20.4,1.3],[21.0,2.6],[21.7,-0.4],[22.2,1.5],[23.1,-1.6],[23.6,3.1],[24.1,1.2],[24.9,-0.6],[25.5,2.2],[26.0,1.0],[26.4,-1.8],[27.3,3.0],[27.9,1.2],[28.7,-0.3],[29.1,2.6],[29.6,0.9],[30.2,-1.8],[30.7,2.9],[31.5,1.6],[32.0,-0.9],[32.5,3.3]];
var canaari = [[0.5,0.3],[0.7,-0.6],[1.1,0.9],[1.7,-3.0],[1.9,0],[2.3,-2.4],[2.6,-0.9],[3.0,1.2],[3.6,-3.6],[3.9,-0.3],[4.2,-1.5],[4.9,0.6],[5.4,-5.8],[5.8,-0.6],[6.1,1.2],[6.5,-2.1],[7.0,1.8],[7.5,-0.3],[7.7,-4.8],[8.2,2.4],[8.6,-1.2],[9.2,0.9],[9.5,-3.0],[9.8,3.3],[10.1,0],[10.5,1.8],[10.7,-3.9],[11.0,-1.2],[11.4,-7.9],[11.7,2.4],[12.0,0.3],[12.3,-2.1],[12.6,3.6],[13.1,-0.6],[13.6,1.2],[13.8,-5.8],[14.0,-3.0],[14.5,2.7],[15.0,0],[15.4,-1.5],[15.7,-7.0],[15.9,1.8],[16.4,3.6],[16.6,-0.9],[17.0,0.9],[17.3,-3.0],[17.8,2.4],[18.2,-0.3],[18.5,-4.5],[18.9,1.5],[19.2,3.3],[19.6,-9.4],[19.8,-1.2],[20.1,0.6],[20.6,2.7],[20.8,-3.0],[21.0,-0.3],[21.5,1.8],[22.0,-2.1],[22.2,-9.1],[22.4,3.6],[22.9,0.3],[23.2,2.4],[23.6,-1.2],[23.8,-7.0],[24.1,1.2],[24.3,-4.2],[24.5,3.9],[24.8,-0.3],[25.2,2.1],[25.7,-2.4],[26.0,-9.7],[26.2,0.9],[26.4,4.5],[26.6,-5.8],[26.9,3.0],[27.3,-0.9],[27.6,1.5],[28.0,-2.7],[28.2,3.6],[28.5,0],[29.0,2.1],[29.2,-1.8],[29.4,-4.2],[29.7,3.0],[29.9,0.6],[30.4,4.2],[30.7,-1.2],[30.8,1.5],[31.0,-3.3],[31.3,3.3],[31.6,-0.3],[31.8,-5.5],[32.0,2.4],[32.2,-1.8],[32.5,0.9],[32.7,3.9],[32.9,-0.6],[33.2,4.8],[33.3,-3.0],[33.5,1.8],[33.6,3.6],[33.8,0.3],[33.9,-2.1],[34.0,2.7],
    [1.3,-1.3],[2.0,1.5],[2.8,-0.5],[3.3,0.3],[4.5,-2.2],[5.2,0.9],[6.3,-0.5],[6.8,2.2],[7.9,0.6],[8.8,-2.3],[9.4,1.3],[10.3,-0.5],[11.2,2.0],[12.2,1.0],[12.9,-1.3],[13.4,2.7],[14.2,-0.9],[14.8,1.9],[15.6,0.7],[16.2,-2.5],[16.9,2.4],[17.6,-1.4],[18.4,3.0],[19.0,0.2],[20.0,-1.9],[20.4,2.2],[21.3,0.0],[21.7,3.1],[22.6,-1.0],[23.0,1.6],[24.0,-2.2],[24.7,2.0],[25.4,0.9],[26.0,3.1],[26.8,-1.5],[27.5,2.5],[28.4,-0.7],[29.3,1.2],[30.1,-2.4],[30.6,2.9],[31.5,0.2],[32.3,2.9],[32.8,-1.5],[33.4,0.6]];
var sapucu = [[0.3,0.9],[0.6,-1.2],[0.7,-3.0],[1.2,0.3],[1.5,-2.4],[1.9,-0.6],[2.4,0.6],[2.8,-4.8],[3.1,-1.5],[3.6,0],[4.0,0.9],[4.5,-2.1],[5.0,-0.6],[5.4,0.6],[5.9,-3.3],[6.4,0.3],[6.8,-8.5],[7.3,-1.2],[7.8,1.5],[8.2,-0.3],[8.7,2.4],[9.2,-2.4],[9.6,-6.1],[9.9,0.6],[10.3,-4.2],[10.6,-0.6],[10.8,2.4],[11.0,-6.7],[11.5,4.2],[11.8,-1.2],[12.0,5.8],[12.1,-5.2],[12.4,1.2],[12.7,-8.2],[13.1,0],[13.4,3.0],[13.6,-3.0],[14.0,0.6],[14.3,2.1],[14.8,-1.5],[15.2,3.6],[15.5,-0.3],[15.9,1.2],[16.2,-2.7],[16.6,-6.7],[16.8,-7.9],[17.1,0.3],[17.4,2.7],[17.8,-1.2],[18.0,1.5],[18.5,-3.6],[19.0,3.3],[19.3,-0.3],[19.4,-7.9],[19.6,0.9],[19.9,4.5],[20.2,-1.8],[20.6,2.1],[20.8,0.3],[21.3,3.0],[21.5,-3.3],[21.8,-0.6],[22.2,1.5],[22.7,3.9],[23.0,-1.5],[23.4,0.9],[23.6,-4.5],[23.9,2.7],[24.3,-0.3],[24.6,4.2],[24.9,-2.4],[25.2,1.8],[25.5,0.3],[26.0,3.6],[26.2,-5.5],[26.4,-0.9],[26.7,2.4],[27.1,0.9],[27.4,-3.0],[27.7,4.2],[28.0,-0.3],[28.3,1.8],[28.6,3.3],[28.8,-1.8],[29.3,0.6],[29.5,2.7],[29.7,-4.2],[30.2,-0.6],[30.5,5.5],[30.7,1.5],[31.1,3.6],[31.4,-1.2],[31.6,-5.2],[31.8,2.4],[32.1,0.3],[32.3,4.5],[32.5,-2.7],[32.7,1.2],[33.0,3.0],[33.3,-0.6],[33.5,6.1],[33.6,8.2],[33.6,1.8],[33.7,-2.1],[33.8,3.9],[33.9,0.3],
    [0.9,0.0],[1.7,-1.4],[2.6,0.9],[3.3,-0.9],[4.2,-2.6],[4.8,0.4],[5.6,-1.5],[6.6,1.1],[7.5,0.1],[8.4,-1.8],[9.0,1.0],[9.8,-1.0],[10.4,2.0],[11.3,0.5],[12.2,-2.3],[12.9,1.9],[13.8,-0.9],[14.5,0.9],[15.3,-1.8],[16.0,2.4],[16.9,-0.6],[17.6,1.0],[18.3,3.2],[18.8,-1.3],[19.7,2.0],[20.4,-0.4],[21.1,1.4],[22.0,2.5],[22.5,-1.9],[23.2,1.7],[24.1,-1.0],[24.8,2.6],[25.7,-0.7],[26.6,3.0],[27.2,-1.4],[27.9,2.2],[28.9,0.2],[29.6,3.2],[30.3,-1.8],[31.0,0.7],[31.9,3.0],[32.6,-0.6],[33.2,1.9],[33.8,-1.6]];
var curuai = [[0.3,0.6],[0.5,-0.9],[0.7,-2.4],[0.9,1.5],[1.4,-0.3],[1.9,-1.5],[2.3,2.7],[2.5,-3.0],[2.8,0.3],[3.3,-0.9],[3.5,1.8],[4.0,-2.1],[4.4,0],[4.7,-3.6],[5.1,0.9],[5.3,3.9],[5.6,-1.2],[6.1,0.3],[6.5,-7.6],[6.8,1.8],[7.0,-2.4],[7.5,-0.3],[7.8,-4.8],[8.1,1.2],[8.4,-1.2],[8.9,2.4],[9.1,-3.3],[9.3,0],[9.8,1.5],[10.0,-2.1],[10.3,0.6],[10.7,3.3],[10.9,-4.2],[11.2,-0.6],[11.5,5.8],[11.7,1.2],[11.9,-1.5],[12.1,2.7],[12.4,-3.0],[12.6,0.3],[13.1,1.8],[13.4,-0.9],[13.6,-6.1],[13.7,0.9],[14.0,-2.4],[14.3,3.0],[14.5,-0.3],[15.0,1.2],[15.2,-5.5],[15.4,-1.5],[15.9,2.4],[16.2,0.3],[16.4,-3.6],[16.5,1.5],[16.8,-6.4],[17.1,-0.6],[17.3,3.3],[17.8,0.6],[18.0,-2.1],[18.2,2.1],[18.7,-0.3],[19.0,-4.5],[19.2,1.2],[19.6,3.0],[19.9,-1.2],[20.1,0.3],[20.6,1.8],[20.8,-3.0],[21.0,-0.6],[21.5,2.7],[21.8,0.9],[22.1,-2.1],[22.4,3.6],[22.7,-6.4],[22.9,0],[23.1,1.8],[23.4,-1.5],[23.6,3.3],[23.8,0.6],[24.3,-3.6],[24.6,2.1],[24.8,4.2],[25.0,-0.9],[25.2,1.2],[25.7,3.0],[25.9,-2.4],[26.2,0.3],[26.4,-4.5],[26.6,6.1],[26.8,1.8],[27.1,-0.3],[27.4,3.6],[27.6,-1.8],[27.8,0.9],[28.0,-4.8],[28.3,2.7],[28.5,0],[28.7,-2.7],[29.0,1.8],[29.3,4.2],[29.4,-0.9],[29.6,-4.5],[29.9,0.9],[30.2,3.0],[30.4,-1.5],[30.6,0.3],[30.8,2.4],[31.1,-3.3],[31.3,-0.3],[31.5,3.9],[31.8,1.5],[32.1,-2.1],[32.2,0.6],[32.4,3.0],[32.7,-0.9],[33.0,4.8],[33.2,-3.9],[33.4,1.8],[33.5,5.8],[33.6,-0.3],[33.6,3.3],[33.7,-2.4],[33.8,0.9],
    [1.1,-1.0],[1.7,0.7],[2.6,-1.7],[3.1,0.4],[3.8,-0.6],[4.6,1.2],[5.4,-0.2],[6.3,-1.6],[7.2,0.6],[8.0,-0.8],[8.7,0.9],[9.5,-1.5],[10.5,1.0],[11.0,-0.1],[11.8,-2.6],[12.8,0.7],[13.3,1.9],[14.1,-0.5],[14.8,0.4],[15.6,-2.3],[16.0,1.0],[16.9,2.0],[17.5,-1.1],[18.4,0.3],[19.4,-2.0],[20.3,0.9],[21.2,2.0],[21.7,-1.2],[22.6,1.2],[23.3,-0.4],[24.0,1.6],[24.9,-1.9],[25.5,0.8],[26.0,2.2],[26.9,-1.3],[27.5,1.1],[28.2,-0.6],[29.1,0.3],[29.8,2.2],[30.5,-1.0],[31.2,1.2],[31.9,-0.8],[32.5,2.2],[33.1,0.3],[33.7,1.4]];
var itandua = [[0.3,0.9],[0.5,-0.6],[0.9,-2.4],[1.2,1.8],[1.6,-7.9],[1.9,-1.2],[2.3,0],[2.8,-3.3],[3.1,1.2],[3.5,-1.5],[4.0,2.7],[4.4,-0.3],[4.7,-4.2],[5.1,0.6],[5.6,-2.4],[6.1,-8.5],[6.3,1.8],[6.8,-0.9],[7.2,-4.8],[7.5,3.0],[7.8,0],[8.1,-5.8],[8.4,-2.7],[8.7,1.2],[9.1,-1.5],[9.3,2.4],[9.8,0.3],[10.3,-4.2],[10.6,3.9],[10.7,-0.6],[11.2,1.5],[11.5,5.2],[11.7,-3.0],[11.9,-6.1],[12.1,0.6],[12.4,3.0],[12.6,-1.5],[13.1,-5.8],[13.4,1.8],[13.6,-0.3],[13.7,-6.7],[14.0,3.3],[14.3,-2.4],[14.5,0.9],[15.0,2.4],[15.2,-4.5],[15.4,-0.6],[15.9,1.5],[16.2,-6.7],[16.4,3.9],[16.8,0.3],[17.1,-3.3],[17.3,2.4],[17.8,-1.2],[18.0,0.9],[18.2,3.3],[18.7,-4.8],[19.0,0],[19.2,2.1],[19.6,-2.1],[19.9,1.2],[20.1,-6.1],[20.3,3.0],[20.6,-0.6],[21.0,1.8],[21.2,-3.6],[21.5,4.2],[21.8,0.3],[22.1,-1.5],[22.4,2.7],[22.7,-4.5],[22.9,0.9],[23.1,3.9],[23.4,-0.9],[23.6,1.8],[24.0,-2.7],[24.3,3.3],[24.6,0],[24.8,2.1],[25.2,-1.8],[25.5,4.2],[25.7,0.9],[25.9,-4.2],[26.2,2.7],[26.4,-0.6],[26.6,1.5],[27.1,3.9],[27.4,-2.4],[27.6,0.3],[27.8,-6.4],[28.0,2.4],[28.5,-1.2],[28.7,3.6],[29.0,0.9],[29.3,-3.3],[29.4,1.8],[29.9,4.5],[30.2,-0.3],[30.4,3.0],[30.6,-2.1],[30.8,1.2],[31.1,-5.2],[31.3,3.9],[31.5,-0.6],[31.8,2.1],[32.1,-2.7],[32.2,3.0],[32.4,0.6],[32.7,4.2],[33.2,1.5],[33.6,-0.5],[33.9,2.5],
    [0.8,-1.1],[1.4,0.3],[2.5,-1.6],[3.3,0.6],[3.8,-0.6],[4.6,1.5],[5.3,-0.8],[6.6,0.4],[7.4,-1.6],[8.3,2.0],[9.0,-0.7],[9.6,1.4],[10.4,-1.2],[11.0,2.4],[11.8,0.1],[12.8,1.6],[13.3,-2.0],[14.2,1.2],[14.8,-0.8],[15.6,2.6],[16.6,-1.9],[17.4,1.0],[18.3,-0.8],[18.9,2.2],[19.8,-0.4],[20.5,1.6],[21.3,-1.0],[22.0,3.2],[22.6,0.3],[23.3,-2.2],[24.1,1.1],[24.9,3.0],[25.6,-0.9],[26.3,2.0],[27.0,0.3],[27.7,3.0],[28.4,-2.0],[29.1,2.3],[29.8,-0.3],[30.5,1.5],[31.2,-1.6],[31.9,2.9],[32.5,-0.5]];
var tapajos = [[0.3,1.7],[0.4,0.4],[0.5,-1.2],[0.7,-2.5],[1.0,2.4],[1.1,-1.6],[1.3,-0.7],[1.6,-3.0],[1.8,0.5],[2.1,-1.3],[2.4,-0.1],[2.6,0.8],[2.7,-1.9],[3.0,-0.8],[3.3,-1.3],[3.6,-2.5],[3.8,-0.4],[4.3,-2.8],[4.5,-1.0],[4.7,2.0],[4.9,-3.8],[5.1,-4.4],[5.4,0.2],[5.5,-1.6],[5.7,2.2],[5.4,-9.8],[6.0,-2.1],[6.3,-1.0],[6.5,2.0],[6.6,-2.8],[6.8,-8.8],[7.1,-0.4],[7.3,1.4],[7.6,-1.0],[7.8,0.5],[8.0,2.0],[8.3,-0.1],[8.5,-4.1],[8.7,1.1],[9.0,-1.3],[9.2,-2.2],[9.4,-4.4],[9.6,2.3],[9.8,3.2],[9.9,-0.4],[10.1,-3.2],[10.4,0.5],[10.6,-1.3],[10.8,2.0],[11.1,-0.4],[11.3,1.1],[11.5,4.8],[11.5,3.2],[11.6,-2.5],[11.8,-6.5],[11.9,0.2],[12.1,2.3],[12.3,-1.0],[12.5,0.8],[12.7,2.6],[12.9,-7.7],[13.0,-3.8],[13.2,-0.1],[13.4,1.4],[13.7,-1.3],[13.9,-2.5],[14.1,0.8],[14.4,-0.7],[14.6,-4.4],[14.8,2.0],[15.1,0.5],[15.3,-1.9],[15.5,2.6],[15.8,-0.4],[16.0,-3.2],[16.2,1.1],[16.5,-1.0],[16.7,-5.3],[16.9,0.2],[17.2,2.3],[17.4,-1.3],[17.7,-4.4],[17.9,0.5],[18.1,1.4],[18.4,-5.0],[18.5,-0.7],[18.7,3.2],[18.8,-1.9],[19.1,0.5],[19.3,2.3],[19.5,3.2],[19.8,-0.4],[19.9,-3.2],[20.1,1.4],[20.2,-1.3],[20.5,0.5],[20.7,-2.5],[20.9,2.0],[21.2,-0.1],[21.4,-3.5],[21.6,1.1],[21.9,-1.0],[22.1,2.0],[22.3,-3.8],[22.6,0.2],[22.8,1.7],[23.1,-1.6],[23.3,0.8],[23.5,2.3],[23.8,-0.4],[24.0,-2.5],[24.2,1.4],[24.5,0.5],[24.6,4.1],[24.8,-1.0],[24.9,2.6],[25.2,1.1],[25.4,-0.1],[25.6,-3.8],[25.9,2.0],[26.1,0.2],[26.3,3.2],[26.5,-6.9],[26.6,-1.0],[26.8,4.4],[26.9,1.4],[27.0,-3.2],[27.3,0.5],[27.5,2.3],[27.7,-1.0],[27.9,-2.8],[28.1,1.4],[28.2,2.9],[28.5,-0.1],[28.7,-1.6],[28.9,2.0],[29.2,0.5],[29.4,2.9],[29.6,-1.0],[29.9,1.4],[30.0,-4.1],[30.1,-0.1],[30.3,3.8],[30.4,-3.2],[30.6,2.0],[30.7,-1.3],[30.9,-4.4],[31.0,3.5],[31.2,0.5],[31.4,-1.9],[31.5,2.3],[31.7,-5.9],[31.8,-0.7],[32.0,1.4],[32.2,0.5],[32.4,3.2],[32.6,-3.2],[32.8,-0.4],[32.9,2.0],[33.1,-1.9],[33.2,2.9],[33.4,0.2],[33.5,3.8],[33.6,1.4],[33.7,4.7],[33.8,-1.0],[33.8,2.6],[33.9,0.5],[33.9,4.1],[34.0,-0.4],
    [0.8,-0.5],[1.5,0.9],[2.3,-2.0],[3.2,0.1],[4.0,-1.6],[5.0,-0.4],[6.2,0.6],[7.0,-1.8],[8.2,0.9],[9.1,0.2],[10.2,1.2],[10.9,-2.0],[12.0,0.9],[13.1,1.7],[14.0,-1.6],[15.0,1.6],[16.1,-0.2],[17.0,1.2],[18.2,-1.3],[19.0,1.8],[20.0,0.0],[21.0,1.0],[22.0,-1.8],[23.0,2.4],[24.1,0.3],[25.0,3.1],[26.0,-0.7],[27.1,1.8],[28.0,0.3],[29.0,3.3],[30.2,0.8],[31.1,2.0],[32.1,-1.2],[33.0,3.4],[33.7,2.2]];
var itarim = [[0.1,-1.2],[1.0,1.9],[1.1,-3.2],[1.3,-3.8],[2.2,-1.9],[2.3,2.7],[2.4,0.5],[2.5,-1.2],[3.4,-1.9],[4.1,-3.9],[5.0,-9.5],[5.2,-2.5],[5.4,2.7],[6.4,-2.1],[6.9,-0.1],[7.1,1.1],[7.4,2.1],[7.1,-0.7],[8.3,-9.6],[8.5,-3.0],[8.8,-0.1],[9.1,-1.3],[9.2,-9.0],[9.4,0.5],[10.0,0.8],[10.2,-1.2],[10.5,-0.3],[11.0,3.3],[11.1,1.1],[11.3,4.3],[11.5,-0.4],[11.8,2.6],[12.1,-0.1],[12.2,-3.5],[12.4,4.1],[12.5,1.1],[12.8,-0.7],[13.1,0.2],[13.3,1.5],[13.6,-0.4],[13.9,0.8],[14.2,-1.8],[14.3,-3.6],[14.4,-4.4],[14.6,2.3],[14.9,-0.1],[15.0,2.7],[15.2,1.1],[15.4,4.4],[15.5,-3.8],[15.7,-0.7],[16.0,0.8],[16.2,-3.3],[16.3,1.5],[16.4,-5.4],[16.6,-0.4],[16.9,2.3],[17.1,1.1],[17.2,-1.9],[17.4,2.5],[17.5,-4.8],[17.8,0.5],[18.0,-0.7],[18.2,-2.2],[18.3,-5.3],[18.5,1.1],[18.8,2.3],[18.9,-0.4],[19.1,-1.6],[19.2,2.7],[19.4,0.5],[19.7,3.2],[19.8,-1.3],[20.0,-3.8],[20.3,1.4],[20.5,-0.7],[21.0,-7.4],[21.1,-5.9],[21.2,0.8],[21.5,-0.1],[22.2,0.2],[22.4,-0.6],[22.9,3.2],[23.1,-1.9],[23.3,2.3],[23.6,-0.4],[24.0,1.1],[24.1,2.6],[24.3,-1.0],[24.5,0.5],[24.7,2.0],[25.0,-0.1],[25.2,-1.6],[25.4,2.6],[25.7,1.1],[25.9,-0.7],[26.2,2.0],[26.4,0.5],[26.6,2.6],[26.9,-1.0],[27.1,1.4],[27.3,2.9],[27.6,0.2],[27.8,1.1],[28.3,0.2],[28.5,-6.2],[28.7,1.1],[29.0,2.3],[29.2,3.2],[29.3,-0.1],[29.4,-4.2],[29.7,-1.3],[29.8,1.4],[30.0,3.8],[30.1,0.2],[30.4,0.9],[31.1,-2.5],[31.3,-3.6],[31.5,1.7],[31.6,-1.3],[31.9,1.1],[32.1,2.9],[32.3,-5.3],[32.4,-0.7],[32.7,-1.9],[33.0,1.7],[33.2,0.2],[33.3,3.2],[33.4,6.2],[33.5,5.3],[33.5,4.4],[33.5,2.3],[33.6,-2.2],[33.6,-5.3],[33.7,0.5],[33.7,-0.5]];
var maicuru = [[0.6,-0.9],[1.5,1.2],[1.6,-3.0],[2.3,-2.4],[2.7,-3.8],[2.8,1.9],[2.8,0.7],[3.8,-2.3],[4.5,-3.2],[5.4,-9.6],[5.5,-1.6],[5.7,1.5],[6.8,-2.5],[7.5,-0.9],[7.7,1.8],[7.7,0.7],[8.7,-1.5],[9.4,0.4],[9.4,-0.5],[9.5,-6.7],[9.9,-1.1],[10.4,1.0],[10.6,1.8],[10.8,-0.2],[11.0,-1.9],[11.3,2.4],[11.5,3.3],[11.7,1.9],[12.0,-0.7],[12.2,3.5],[12.4,-3.5],[12.6,1.2],[12.8,0.4],[12.9,1.8],[13.1,-1.1],[13.4,-0.2],[13.6,-1.9],[13.8,0.7],[14.1,1.9],[14.3,-3.2],[14.5,-4.3],[14.6,-0.2],[14.8,2.5],[15.0,0.9],[15.3,-1.4],[15.4,-3.5],[15.5,2.2],[15.6,3.5],[15.9,-0.7],[16.1,1.3],[16.3,-2.6],[16.6,-5.9],[16.7,0.4],[16.9,1.8],[17.1,-0.9],[17.4,0.9],[17.5,-2.3],[17.8,1.9],[17.9,-0.1],[18.2,-1.3],[18.4,1.0],[18.7,2.5],[18.8,-2.9],[19.0,0.4],[19.3,1.6],[19.5,3.2],[19.6,-0.9],[19.8,1.9],[20.0,-3.9],[20.1,-0.1],[20.5,0.7],[20.7,-0.8],[20.9,1.3],[21.1,-3.5],[21.3,-8.7],[21.4,-0.2],[21.8,0.7],[22.3,-0.8],[22.8,1.3],[23.0,2.5],[23.2,-1.1],[23.5,0.4],[23.8,1.9],[24.2,-0.2],[24.3,3.0],[24.5,-0.9],[24.6,0.4],[25.1,-3.8],[25.3,1.8],[25.4,-0.2],[25.6,-1.1],[25.8,0.7],[26.1,1.6],[26.3,0.1],[26.5,-1.4],[26.8,1.9],[27.0,0.9],[27.2,-0.5],[27.5,2.4],[27.7,0.4],[27.9,-1.1],[28.2,2.1],[28.4,1.3],[28.6,-0.1],[28.9,1.0],[29.1,2.5],[29.3,-2.9],[29.5,0.1],[29.7,3.8],[29.8,-1.3],[30.0,1.3],[30.2,-2.1],[30.3,-0.2],[30.6,2.2],[30.8,-2.6],[31.1,0.7],[31.2,-4.9],[31.3,-1.1],[31.6,-3.2],[31.8,1.6],[32.1,2.8],[32.3,0.4],[32.5,-1.4],[32.6,-2.3],[32.8,1.9],[33.0,4.1],[33.1,-0.2],[33.2,-2.9],[33.4,5.3],[33.5,1.0],[33.5,-1.4],[33.6,2.8],[33.7,-0.5],[33.8,-2.5]];
var maracu = [[0.6,-0.9],[1.3,1.0],[1.5,-3.4],[2.5,0.4],[2.6,-3.2],[2.8,-0.1],[3.7,-1.7],[4.4,-3.7],[5.3,-9.4],[5.5,-2.0],[5.6,0.2],[6.8,-2.9],[7.3,0.1],[7.5,-0.2],[8.6,-2.3],[9.4,0.1],[9.6,-0.8],[9.7,-6.4],[10.5,1.9],[10.6,-0.5],[11.2,-0.2],[11.5,4.1],[11.6,2.2],[11.8,-1.1],[12.0,1.0],[12.3,-0.3],[12.5,-1.7],[12.8,1.8],[13.0,-0.1],[13.4,-1.1],[13.6,1.0],[13.9,-0.1],[14.0,-1.4],[14.3,0.4],[14.5,-2.9],[14.6,-3.8],[14.7,-4.4],[14.8,2.8],[14.9,-0.5],[15.1,1.3],[15.4,-3.9],[15.6,0.4],[15.9,1.8],[16.1,-1.1],[16.4,-2.6],[16.7,0.1],[17.0,2.8],[17.3,-0.8],[17.5,1.3],[17.8,-2.0],[18.0,0.1],[18.3,4.2],[18.5,-1.1],[18.6,0.9],[18.7,-8.2],[18.8,2.5],[19.0,-1.3],[19.2,0.4],[19.4,1.9],[19.7,-5.0],[19.8,-0.5],[20.0,1.3],[20.2,-1.7],[20.5,0.1],[20.9,1.0],[21.2,-0.9],[21.5,-6.5],[21.7,0.4],[22.0,-1.4],[22.3,1.3],[22.6,0.1],[22.9,2.5],[23.1,-0.5],[23.4,3.2],[23.6,0.4],[23.9,-1.1],[24.0,1.9],[24.3,-2.0],[24.5,0.7],[24.8,2.2],[25.0,-0.2],[25.3,1.3],[25.5,-1.5],[25.8,0.4],[26.0,2.5],[26.2,-0.8],[26.4,1.6],[26.7,0.1],[26.9,2.2],[27.2,-1.3],[27.4,1.0],[27.7,-0.2],[27.9,1.9],[28.1,0.4],[28.3,-0.9],[28.6,1.3],[28.8,0.1],[29.1,2.5],[29.3,-2.0],[29.6,0.9],[29.8,-0.7],[30.0,1.9],[30.2,0.4],[30.5,-1.7],[30.7,1.5],[31.0,-0.1],[31.3,2.5],[31.6,-4.5],[31.8,-1.1],[32.0,1.0],[32.1,2.8],[32.4,-0.2],[32.6,-4.3],[32.8,0.4],[32.9,-2.3],[33.3,1.5],[33.7,-0.4]];

var siteNames = ['Uarini', 'Tefe', 'Amana', 'Coari', 'Piorini', 'Mamia', 'Badajos', 'Anama',
    'Manacapuru', 'Anavilhanas', 'Cabaliana', 'Calado', 'Castanho', 'Janauaca', 'Rei', 'Agostinho',
    'Canaari', 'Sapucu', 'Curuai', 'Itandua', 'Tapajos', 'Itarim', 'Maicuru', 'Maracu'];
var sitePoints = [uarini, tefe, amana, coari, piorini, mamia, badajos, anama,
    manacapuru, anavilhanas, cabaliana, calado, castanho, janauaca, rei, agostinho,
    canaari, sapucu, curuai, itandua, tapajos, itarim, maicuru, maracu];
// trend in °C per decade, as printed in each panel
var siteRates = [0.7, 0.7, 0.8, 0.7, 0.6, 0.6, 0.8, 0.6,
    0.7, 0.6, 0.6, 0.5, 0.5, 0.6, 0.5, 0.7,
    0.6, 0.7, 0.5, 0.7, 0.8, 0.4, 0.4, 0.4];
// value of the fitted trend line at 1990
var trendAt1990 = [-1.35, -1.2, -1.2, -0.9, -0.9, -0.8, -1.1, -0.7,
    -1.0, -1.1, -0.9, -0.7, -0.9, -0.8, -0.5, -0.6,
    -0.6, -1.1, -0.8, -0.9, -1.0, -0.2, -0.1, -0.3];
var xTicks = [1990, 2000, 2010, 2020];
var yTicks = [-10, 0, 10];

var width = 1113, height = 873;
var panelW = 243, panelH = 110;
var colLeft = [77, 344, 610.5, 877.5];
var rowTop = [26, 166.2, 306.4, 446.6, 586.8, 727];

var x = d3.scaleLinear().domain([1990, 2024]).range([0, panelW]);
var y = d3.scaleLinear().domain([-10, 10]).range([panelH, 0]);

var svg = d3.select('body').append('svg')
    .attr('width', width)
    .attr('height', height);

svg.append('defs').append('clipPath')
    .attr('id', 'panel-clip')
    .append('rect')
    .attr('width', panelW)
    .attr('height', panelH);

siteNames.forEach(function (name, i) {
    var col = i % 4, row = Math.floor(i / 4);
    var pts = sitePoints[i];
    var g = svg.append('g')
        .attr('transform', 'translate(' + colLeft[col] + ',' + rowTop[row] + ')');

    var plot = g.append('g').attr('clip-path', 'url(#panel-clip)');

    plot.selectAll('circle')
        .data(pts)
        .enter().append('circle')
        .attr('cx', function (d) { return x(1990 + d[0]); })
        .attr('cy', function (d) { return y(d[1]); })
        .attr('r', 1.85)
        .attr('fill', '#000');

    var t0 = d3.min(pts, function (d) { return d[0]; });
    var trend = d3.line()
        .x(function (t) { return x(1990 + t); })
        .y(function (t) { return y(trendAt1990[i] + siteRates[i] / 10 * t); });

    plot.append('path')
        .datum([t0, 34])
        .attr('d', trend)
        .attr('fill', 'none')
        .attr('stroke', '#f26a4b')
        .attr('stroke-width', 2);

    g.append('rect')
        .attr('width', panelW)
        .attr('height', panelH)
        .attr('fill', 'none')
        .attr('stroke', '#000')
        .attr('stroke-width', 1.2);

    g.append('text')
        .attr('class', 'title')
        .attr('x', panelW / 2)
        .attr('y', -6)
        .attr('text-anchor', 'middle')
        .text(name);

    g.append('text')
        .attr('class', 'rate')
        .attr('x', 15)
        .attr('y', 18)
        .text('+' + siteRates[i].toFixed(1) + '°C/dec');

    if (col === 0) {
        var ya = g.append('g')
            .call(d3.axisLeft(y).tickValues(yTicks).tickSize(5).tickPadding(9));
        ya.select('.domain').remove();
        ya.selectAll('.tick line').attr('stroke-width', 1.2);
    }
    if (row === 5) {
        var xa = g.append('g')
            .attr('transform', 'translate(0,' + panelH + ')')
            .call(d3.axisBottom(x).tickValues(xTicks).tickFormat(d3.format('d')).tickSize(5).tickPadding(4));
        xa.select('.domain').remove();
        xa.selectAll('.tick line').attr('stroke-width', 1.2);
    }
});

svg.selectAll('.tick text').attr('font-family', null).attr('font-size', null);
svg.selectAll('.tick').attr('font-family', null).attr('font-size', null);

svg.append('text')
    .attr('class', 'ylab')
    .attr('transform', 'translate(20,432) rotate(-90)')
    .attr('text-anchor', 'middle')
    .text('LST anomaly (°C)');
</script>
</body>
</html>
